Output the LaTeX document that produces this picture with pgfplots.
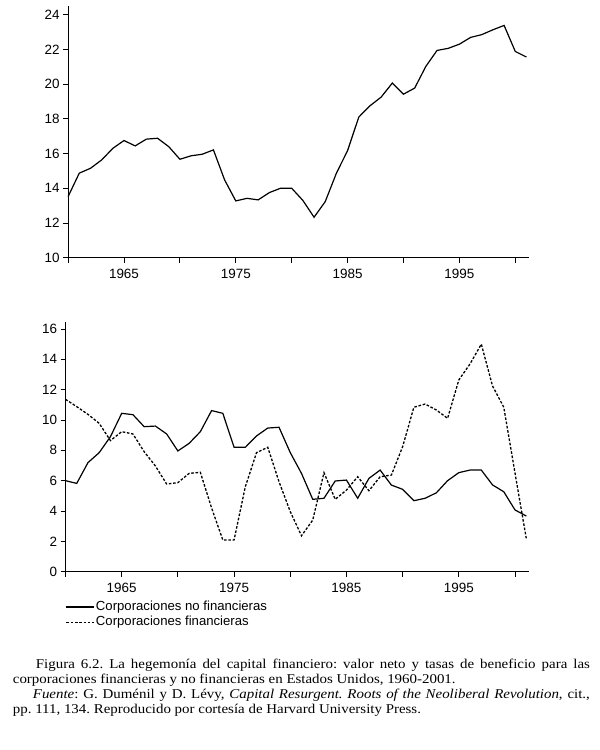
\documentclass[border=0pt]{standalone}
\usepackage{fontspec}
\setmainfont{Liberation Serif}
\setsansfont{Liberation Sans}
\newfontfamily\capfont{Liberation Serif}[FakeStretch=1.11]
\usepackage{pgfplots}
\pgfplotsset{compat=1.18}

\pgfplotsset{
  mystyle/.style={
    scale only axis,
    axis x line*=bottom,
    axis y line*=left,
    axis line style={-, line width=0.9bp, black},
    xmin=1960, xmax=2001.2,
    xtick={1960,1965,...,2000},
    xticklabels={,1965,,1975,,1985,,1995,},
    tick align=outside,
    major tick length=5bp,
    tick style={line width=0.9bp, black},
    ticklabel style={font=\sffamily\fontsize{13.5}{16}\selectfont},
    /pgf/number format/assume math mode=true,
    /pgf/number format/1000 sep={},
    x tick label style={yshift=-3bp},
    clip=false,
  }
}

\begin{document}
\begin{tikzpicture}
\useasboundingbox (0bp,0bp) rectangle (600bp,750bp);

% ---------- top panel ----------
\begin{axis}[mystyle,
  at={(68.1bp,492.3bp)}, anchor=south west,
  width=460.6bp, height=251.7bp,
  ymin=10, ymax=24.5, ytick={10,12,...,24}]
\addplot[black, line width=1.2bp] coordinates {
(1960,13.52) (1961,14.87) (1962,15.15) (1963,15.63) (1964,16.30)
(1965,16.75) (1966,16.44) (1967,16.83) (1968,16.88) (1969,16.40)
(1970,15.67) (1971,15.87) (1972,15.96) (1973,16.21) (1974,14.48)
(1975,13.27) (1976,13.42) (1977,13.33) (1978,13.75) (1979,14.00)
(1980,14.00) (1981,13.30) (1982,12.33) (1983,13.23) (1984,14.87)
(1985,16.17) (1986,18.10) (1987,18.75) (1988,19.25) (1989,20.06)
(1990,19.42) (1991,19.77) (1992,21.02) (1993,21.94) (1994,22.06)
(1995,22.30) (1996,22.69) (1997,22.85) (1998,23.13) (1999,23.38)
(2000,21.88) (2001,21.56)
};
\end{axis}

% ---------- bottom panel ----------
\begin{axis}[mystyle,
  at={(65.5bp,178.3bp)}, anchor=south west,
  width=463bp, height=250bp,
  ymin=0, ymax=16.48, ytick={0,2,...,16},
  legend style={at={(0,0)}, anchor=north west, xshift=0bp, yshift=-27.8bp,
    draw=none, fill=none, inner sep=0pt, row sep=1bp,
    font=\sffamily\fontsize{13.2}{15}\selectfont,
    nodes={inner sep=1bp, text height=9.5bp, text depth=3bp}},
  legend cell align=left,
  legend image code/.code={\draw[#1] (0bp,0bp) -- (28bp,0bp);}]
\addplot[black, line width=1.2bp] coordinates {
(1960,6.00) (1961,5.82) (1962,7.19) (1963,7.85) (1964,8.90)
(1965,10.44) (1966,10.35) (1967,9.56) (1968,9.60) (1969,9.08)
(1970,7.96) (1971,8.46) (1972,9.23) (1973,10.62) (1974,10.44)
(1975,8.20) (1976,8.20) (1977,8.95) (1978,9.47) (1979,9.52)
(1980,7.85) (1981,6.48) (1982,4.77) (1983,4.84) (1984,5.98)
(1985,6.04) (1986,4.84) (1987,6.15) (1988,6.70) (1989,5.71)
(1990,5.43) (1991,4.68) (1992,4.84) (1993,5.20) (1994,6.00)
(1995,6.53) (1996,6.70) (1997,6.70) (1998,5.72) (1999,5.27)
(2000,4.07) (2001,3.67)
};
\addlegendentry{Corporaciones no financieras}
\addplot[black, line width=1.3bp, dash pattern=on 2.6bp off 1.7bp] coordinates {
(1960,11.36) (1961,10.88) (1962,10.37) (1963,9.78) (1964,8.64)
(1965,9.23) (1966,9.08) (1967,7.91) (1968,6.97) (1969,5.78)
(1970,5.87) (1971,6.48) (1972,6.55) (1973,4.20) (1974,2.09)
(1975,2.09) (1976,5.60) (1977,7.85) (1978,8.20) (1979,5.93)
(1980,3.96) (1981,2.37) (1982,3.40) (1983,6.53) (1984,4.77)
(1985,5.38) (1986,6.26) (1987,5.34) (1988,6.26) (1989,6.37)
(1990,8.24) (1991,10.84) (1992,11.05) (1993,10.66) (1994,10.11)
(1995,12.64) (1996,13.70) (1997,15.00) (1998,12.24) (1999,10.84)
(2000,6.50) (2001,2.20)
};
\addlegendentry{Corporaciones financieras}
\end{axis}

% ---------- caption ----------
\node[anchor=base west, inner sep=0pt, text width=577bp, align=justify,
      font=\capfont\fontsize{13.5}{15}\selectfont] at (12.7bp,81bp) {%
\frenchspacing\hyphenpenalty=10000\exhyphenpenalty=10000
\hspace*{23bp}Figura 6.2. La hegemonía del capital financiero: valor neto y tasas de beneficio para las\linebreak
corporaciones financieras y no financieras en Estados Unidos, 1960-2001.\par
\hspace*{20bp}\textit{Fuente}: G. Duménil y D. Lévy, \textit{Capital Resurgent. Roots of the Neoliberal Revolution}, cit.,\linebreak
pp. 111, 134. Reproducido por cortesía de Harvard University Press.};
\end{tikzpicture}
\end{document}
